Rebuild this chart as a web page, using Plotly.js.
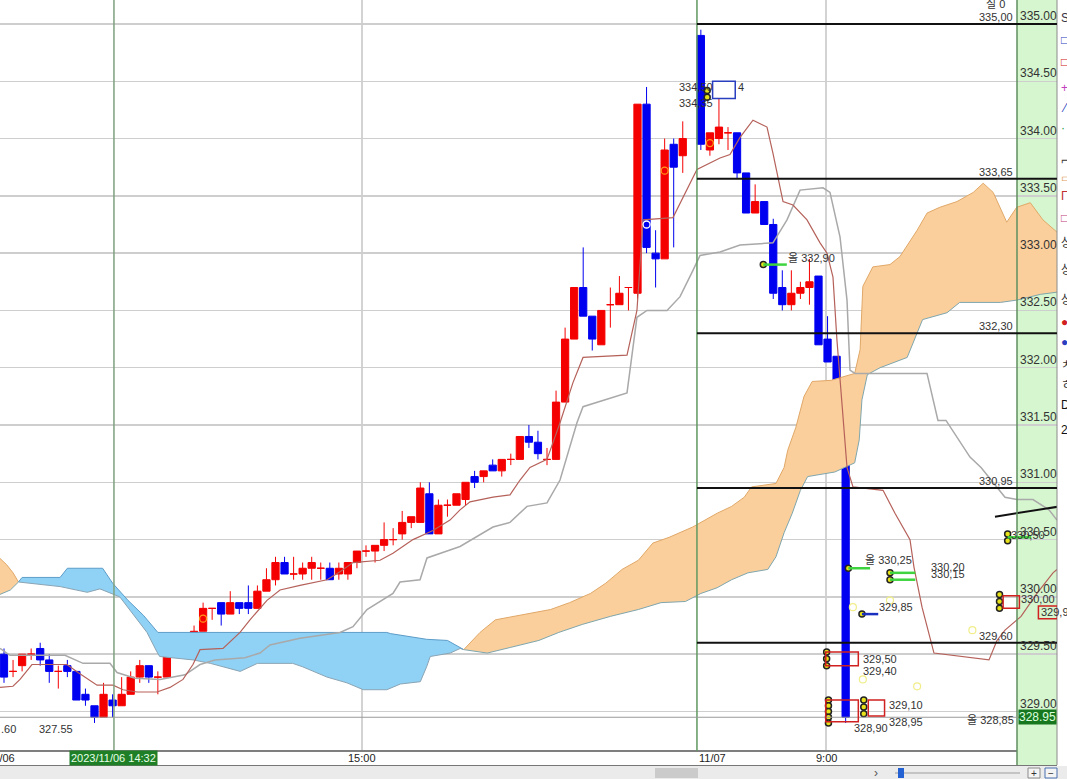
<!DOCTYPE html>
<html><head><meta charset="utf-8">
<script src="https://cdn.plot.ly/plotly-3.0.1.min.js"></script>
<style>html,body{margin:0;padding:0;background:#fff;overflow:hidden}#chart{width:1067px;height:779px}</style>
</head><body><div id="chart"></div>
<script>
// ---------- DATA ----------
const day1Bars = 76, day2Bars = 17, sessionGap = 1;
const openP = [329.50,329.35,329.40,329.50,329.55,329.45,329.35,329.40,329.35,329.15,
 329.05,328.95,329.10,329.05,329.15,329.30,329.40,329.30,329.30,329.60,
 329.55,329.65,329.70,329.90,329.95,329.85,329.95,329.95,329.90,330.05,
 330.15,330.30,330.20,330.20,330.25,330.25,330.25,330.20,330.20,330.30,
 330.40,330.40,330.45,330.50,330.55,330.65,330.65,330.90,330.55,330.80,
 330.80,330.85,331.05,331.05,331.15,331.10,331.20,331.20,331.40,331.35,
 331.20,331.20,331.70,332.25,332.70,332.45,332.20,332.55,332.55,332.70,
 332.65,334.30,333.00,332.95,333.95,333.85,
 334.90,333.90,334.00,334.05,334.05,333.70,333.35,333.45,333.25,332.70,332.55,332.65,332.70,332.80,332.25,332.10,331.15];
const highP = [329.55,329.45,329.50,329.55,329.60,329.50,329.40,329.45,329.35,329.20,
 329.05,329.25,329.15,329.30,329.35,329.45,329.40,329.35,329.55,329.60,
 329.60,329.75,329.95,329.90,329.95,330.05,329.95,330.10,330.10,330.25,
 330.35,330.35,330.35,330.30,330.35,330.30,330.30,330.30,330.30,330.40,
 330.45,330.45,330.65,330.60,330.75,330.70,331.00,331.00,330.85,330.85,
 330.90,331.00,331.10,331.10,331.20,331.20,331.25,331.40,331.50,331.45,
 331.30,331.80,332.35,332.70,333.05,332.45,332.50,332.70,332.80,332.70,
 334.30,334.45,333.20,334.00,334.00,334.15,
 334.95,334.05,334.35,334.10,334.05,333.70,333.60,333.45,333.30,332.85,332.85,332.75,332.95,332.80,332.45,332.10,331.15];
const lowP = [329.25,329.30,329.35,329.45,329.40,329.25,329.20,329.30,329.10,329.05,
 328.90,328.95,328.95,329.05,329.15,329.25,329.25,329.15,329.30,329.50,
 329.50,329.65,329.70,329.80,329.75,329.85,329.85,329.85,329.90,330.05,
 330.10,330.20,330.15,330.15,330.15,330.15,330.15,330.15,330.15,330.25,
 330.35,330.30,330.40,330.45,330.50,330.60,330.65,330.55,330.55,330.70,
 330.80,330.80,330.95,331.00,331.10,331.05,331.15,331.20,331.30,331.20,
 331.15,331.20,331.70,332.25,332.45,332.15,332.20,332.35,332.55,332.50,
 332.60,333.00,332.70,332.95,333.05,333.70,
 333.90,333.85,333.95,333.90,333.65,333.35,333.35,333.25,332.60,332.50,332.50,332.60,332.55,332.20,332.05,331.15,328.90];
const closeP = [329.30,329.35,329.50,329.50,329.45,329.35,329.35,329.35,329.10,329.10,
 328.95,329.15,329.05,329.15,329.30,329.40,329.30,329.30,329.55,329.55,
 329.60,329.70,329.90,329.90,329.85,329.95,329.90,329.90,330.05,330.15,
 330.30,330.20,330.20,330.25,330.30,330.25,330.15,330.25,330.30,330.40,
 330.40,330.45,330.50,330.50,330.65,330.70,330.95,330.55,330.80,330.80,
 330.90,331.00,331.00,331.10,331.10,331.20,331.20,331.40,331.35,331.25,
 331.20,331.70,332.25,332.70,332.45,332.25,332.50,332.55,332.65,332.70,
 334.30,333.05,332.95,333.90,333.75,334.00,
 333.95,334.05,334.10,334.05,333.70,333.35,333.45,333.25,332.65,332.55,332.65,332.70,332.75,332.20,332.05,331.15,328.95];

// Ichimoku lines (slot = bar position)
const tenkanSlot = [-0.44,0.99,1.77,3.09,6.96,8.18,10.28,12.04,13.15,14.70,16.91,18.34,19.78,20.88,21.66,24.20,26.08,27.18,29.06,30.50,32.71,35.69,37.13,38.56,41.55,42.98,45.19,47.40,49.28,50.39,51.49,54.03,55.91,57.02,58.12,60.00,61.44,62.87,63.98,68.84,69.94,70.61,73.92,75.47,76.57,79.12,80.22,81.33,82.76,84.31,84.97,86.08,87.18,88.73,90.17,90.94,91.60,92.04,93.15,93.81,97.13,98.45,100.11,100.55,101.44,102.76,108.84,109.72,110.61,112.38,114.14,115.91,116.35];
const tenkanVal = [329.21,329.22,329.28,329.41,329.41,329.34,329.23,329.23,329.19,329.17,329.17,329.21,329.28,329.41,329.54,329.55,329.69,329.80,329.97,330.06,330.10,330.15,330.22,330.30,330.32,330.38,330.50,330.58,330.67,330.76,330.83,330.87,330.89,331.02,331.13,331.20,331.52,331.87,332.09,332.11,332.50,333.29,333.31,333.55,333.73,333.83,333.86,334.01,334.16,334.10,333.87,333.45,333.42,333.29,333.09,333.00,332.79,332.24,331.13,330.96,330.93,330.73,330.50,330.26,329.91,329.51,329.45,329.62,329.71,329.83,330.03,330.21,330.24];
const kijunSlot = [-0.44,0.66,6.74,8.73,11.71,12.49,14.48,17.24,20.00,21.66,23.31,26.63,28.29,29.39,32.71,37.13,38.56,40.11,42.98,43.76,45.97,46.74,49.28,50.39,54.03,55.91,57.79,60.00,61.44,63.31,63.98,68.84,69.94,71.05,73.26,74.70,76.13,76.91,79.12,81.33,84.97,86.52,87.96,90.50,91.27,92.38,93.15,93.48,94.03,101.99,103.20,104.09,106.74,107.96,110.61,111.93,113.70,115.47,116.35];
const kijunVal = [329.55,329.49,329.49,329.42,329.42,329.34,329.29,329.28,329.32,329.41,329.45,329.47,329.51,329.58,329.64,329.69,329.74,329.89,330.03,330.13,330.15,330.34,330.41,330.44,330.61,330.65,330.79,330.82,331.02,331.52,331.66,331.78,332.44,332.50,332.50,332.62,332.85,332.98,333.01,333.07,333.09,333.29,333.55,333.57,333.53,333.14,332.59,331.98,331.95,331.95,331.54,331.54,331.22,331.13,330.87,330.85,330.85,330.76,330.67];

// Cloud edges
const orangeLeftTopSlot = [-0.5,0.3,1.0,1.6], orangeLeftTopVal = [330.34,330.28,330.21,330.13];
const orangeLeftBotSlot = [-0.5,0.7,1.6], orangeLeftBotVal = [330.02,330.06,330.13];
const blueTopSlot = [1.6,2.0,6.2,7.0,10.9,12.0,13.7,15.4,17.0,42.3,42.7,46.7,49.0,50.4,50.8];
const blueTopVal = [330.13,330.17,330.17,330.25,330.25,330.12,329.97,329.84,329.69,329.69,329.68,329.63,329.62,329.56,329.54];
const blueBotSlot = [1.6,6.2,9.2,10.6,12.8,14.3,15.8,16.9,17.2,20.9,22.8,26.1,28.0,31.9,33.0,35.7,37.9,39.7,42.3,43.8,46.0,46.7,47.1,49.3,50.4,50.8];
const blueBotVal = [330.13,330.09,330.04,330.07,330.00,329.84,329.69,329.52,329.48,329.45,329.42,329.35,329.42,329.42,329.39,329.30,329.25,329.19,329.19,329.24,329.26,329.39,329.48,329.51,329.55,329.54];
const orangeTopSlot = [50.8,52.6,54.3,56.9,60.4,62.5,64.8,66.5,68.3,70.1,71.7,73.5,76.1,78.8,80.4,81.8,82.6,85.3,86.2,86.6,87.5,88.4,89.3,91.4,94.0,94.6,94.9,96.0,97.9,99.0,100.9,102.0,103.4,105.3,107.1,108.2,109.3,110.8,111.9,113.4,114.8,116.4];
const orangeTopVal = [329.54,329.69,329.80,329.84,329.89,329.95,330.03,330.12,330.24,330.32,330.47,330.52,330.61,330.73,330.79,330.87,330.96,330.99,331.13,331.28,331.48,331.75,331.88,331.89,331.95,332.16,332.71,332.88,332.90,332.97,333.20,333.35,333.40,333.45,333.53,333.61,333.53,333.27,333.40,333.44,333.29,333.18];
const orangeBotSlot = [50.8,53.4,56.0,59.1,61.3,63.9,67.0,70.1,72.6,75.3,77.0,78.8,80.4,82.2,84.4,85.3,86.2,87.1,88.0,88.8,91.8,94.0,94.5,94.8,95.4,96.8,99.8,100.9,101.5,104.2,105.6,110.1,111.9,114.5,116.4];
const orangeBotVal = [329.54,329.51,329.56,329.62,329.69,329.76,329.83,329.89,329.95,329.96,330.03,330.08,330.15,330.21,330.24,330.35,330.56,330.73,330.93,331.05,331.09,331.17,331.37,331.72,331.94,332.00,332.09,332.30,332.42,332.48,332.57,332.57,332.59,332.64,332.66];

// price axis ticks
const priceTicks = [335.0,334.5,334.0,333.5,333.0,332.5,332.0,331.5,331.0,330.5,330.0,329.5,329.0];
const priceTickText = ['335.00','334.50','334.00','333.50','333.00','332.50','332.00','331.50','331.00','330.50','330.00','329.50','329.00'];
const lastPrice = 328.95, lastPriceText = '328.95';
// drawn level lines
const levelPrices = [335.00,333.65,332.30,330.95,329.60];
const levelText = ['335,00','333,65','332,30','330,95','329,60'];
// time axis
const timeGridSlots = [39.56, 90.83];
const daySplitSlot = 76.57, crossSlot = 12.15;
const timeLabels = ['11/06','15:00','11/07','9:00'];
const crossLabel = '2023/11/06 14:32';
// order notes
const noteText = ['334,50','334,35','4','올 332,90','올 330,25','330,20','330,15','329,85','329,50','329,40','329,10','328,95','328,90','올 328,85','330,00','329,90','330,50','실 0','327.55'];
const noteSlot = [74.5,74.5,81.0,86.5,95.0,102.3,102.3,96.6,94.8,94.8,97.7,97.7,93.8,106.3,112.3,114.5,111.2,108.4,3.8];
const notePrice = [334.45,334.31,334.45,332.96,330.32,330.26,330.20,329.91,329.46,329.35,329.06,328.91,328.86,328.93,329.98,329.87,330.54,335.17,328.85];
const pinSlot = [77.7,77.7,83.9,93.3,97.9,97.9,94.8,90.9,90.9,90.9,91.1,91.1,91.1,91.1,91.1,95.0,95.0,95.0,110.9,110.9,110.0,110.0,110.0];
const pinPrice = [334.42,334.36,332.90,330.25,330.21,330.15,329.85,329.52,329.46,329.40,329.10,329.05,329.00,328.95,328.90,329.10,329.04,328.98,330.55,330.49,330.02,329.96,329.90];
const greenTickFrom = [83.9,93.3,97.9,97.9,110.9], greenTickTo = [86.5,95.7,100.7,100.7,113.5], greenTickPrice = [332.90,330.25,330.21,330.15,330.52];
const blueTickFrom = [94.8], blueTickTo = [96.6], blueTickPrice = [329.85];
const redBoxX0 = [90.8,90.8,95.5,110.4,114.3], redBoxX1 = [94.4,94.4,97.3,112.2,116.4], redBoxP0 = [329.40,328.91,328.96,329.90,329.81], redBoxP1 = [329.52,329.10,329.10,330.01,329.92];
const blueBoxX0 = [78.3], blueBoxX1 = [80.8], blueBoxP0 = [334.35], blueBoxP1 = [334.50];
const paleSlot = [93.8,97.9,94.9,100.9,107.0], palePrice = [329.91,329.97,329.28,329.22,329.71];
const signalSlot = [22,73,78], signalPrice = [329.81,333.72,333.96];
const signal2Slot = [71], signal2Price = [333.25];
const trendSlot = [109.5,116.7], trendPrice = [330.70,330.79];

// ---------- BUILD ----------
const barSlot = [];
for (let i = 0; i < day1Bars; i++) barSlot.push(i);
for (let i = 0; i < day2Bars; i++) barSlot.push(day1Bars + sessionGap + i);

function candles(up, color) {
  const x=[],o=[],h=[],l=[],c=[];
  for (let i = 0; i < barSlot.length; i++) {
    const isUp = closeP[i] >= openP[i];
    if (isUp === up) { x.push(barSlot[i]); o.push(openP[i]); h.push(highP[i]); l.push(lowP[i]); c.push(closeP[i]); }
  }
  return {type:'candlestick', x, open:o, high:h, low:l, close:c, whiskerwidth:0,
    increasing:{line:{color, width:1}, fillcolor:color},
    decreasing:{line:{color, width:1}, fillcolor:color},
    hoverinfo:'skip', showlegend:false};
}
function line(x, y, color, width, extra) {
  return Object.assign({type:'scatter', mode:'lines', x, y, line:{color, width}, hoverinfo:'skip', showlegend:false}, extra||{});
}

const FONT = 'Liberation Sans, Noto Sans CJK KR, sans-serif';
const traces = [
  line(orangeLeftBotSlot, orangeLeftBotVal, '#7fa6ad', 1),
  line(orangeLeftTopSlot, orangeLeftTopVal, '#e0a868', 1, {fill:'tonexty', fillcolor:'#fbcf9c'}),
  line(blueBotSlot, blueBotVal, '#8aa4b4', 1),
  line(blueTopSlot, blueTopVal, '#5d9cc8', 1, {fill:'tonexty', fillcolor:'#8fd2f6'}),
  line(orangeBotSlot, orangeBotVal, '#7fa6ad', 1),
  line(orangeTopSlot, orangeTopVal, '#e0a868', 1, {fill:'tonexty', fillcolor:'#fbcf9c'}),
  line(kijunSlot, kijunVal, '#a9a9a9', 1.5),
  line(tenkanSlot, tenkanVal, '#b5615a', 1.2),
  candles(true, '#f50000'),
  candles(false, '#0000f0'),
  {type:'scatter', mode:'markers', x:signalSlot, y:signalPrice, marker:{symbol:'circle-open', size:7, color:'#ff9a1a', line:{width:1.3}}, hoverinfo:'skip', showlegend:false},
  {type:'scatter', mode:'markers', x:signal2Slot, y:signal2Price, marker:{symbol:'circle-open', size:7, color:'#ffffff', line:{width:1.3}}, hoverinfo:'skip', showlegend:false},
  {type:'scatter', mode:'markers', x:paleSlot, y:palePrice, marker:{symbol:'circle-open', size:7, color:'#f1ee8a', line:{width:1.2}}, hoverinfo:'skip', showlegend:false},
  line(trendSlot, trendPrice, '#111', 2)
];

const shapes = [];
const px = v => v/1057, py = v => (750 - v)/750;
// right price panel
shapes.push({type:'rect', layer:'below', xref:'paper', yref:'paper', x0:px(1017), x1:1, y0:py(765), y1:1, fillcolor:'#d6f6cf', line:{width:0}});
// time strip & scroll strip
shapes.push({type:'rect', layer:'above', xref:'paper', yref:'paper', x0:0, x1:1067/1057, y0:py(779), y1:py(766), fillcolor:'#ebebeb', line:{width:0}});
shapes.push({type:'line', xref:'paper', yref:'paper', x0:0, x1:px(1017), y0:py(751), y1:py(751), line:{color:'#555', width:1.5}});
shapes.push({type:'line', xref:'paper', yref:'paper', x0:0, x1:1, y0:py(765.5), y1:py(765.5), line:{color:'#777', width:1}});
shapes.push({type:'line', xref:'paper', yref:'paper', x0:px(1017), x1:px(1017), y0:py(765), y1:1, line:{color:'#5f8f5f', width:1.5}});
shapes.push({type:'line', xref:'paper', yref:'paper', x0:1, x1:1, y0:py(765), y1:1, line:{color:'#8a8a8a', width:1}});
// scroll widgets
shapes.push({type:'rect', xref:'paper', yref:'paper', x0:px(655), x1:px(698), y0:py(778), y1:py(768), fillcolor:'#cbcbcb', line:{width:0}});
shapes.push({type:'line', xref:'paper', yref:'paper', x0:px(895), x1:px(1020), y0:py(773), y1:py(773), line:{color:'#c4c4c4', width:2}});
shapes.push({type:'rect', xref:'paper', yref:'paper', x0:px(898), x1:px(904), y0:py(778), y1:py(768), fillcolor:'#2462d4', line:{width:0}});
shapes.push({type:'rect', xref:'paper', yref:'paper', x0:px(1028), x1:px(1040), y0:py(778), y1:py(768), fillcolor:'#f4f4f4', line:{color:'#8a8a8a', width:1}});
shapes.push({type:'rect', xref:'paper', yref:'paper', x0:px(1045), x1:px(1057), y0:py(778), y1:py(768), fillcolor:'#f4f4f4', line:{color:'#4a6fb0', width:1}});
// vertical markers
shapes.push({type:'line', xref:'x', yref:'paper', x0:crossSlot, x1:crossSlot, y0:py(751), y1:1, line:{color:'#7f9f7f', width:1.5}});
shapes.push({type:'line', xref:'x', yref:'paper', x0:daySplitSlot, x1:daySplitSlot, y0:py(751), y1:1, line:{color:'#5f985f', width:1.5}});
// last price line
shapes.push({type:'line', xref:'paper', yref:'y', x0:0, x1:1, y0:lastPrice, y1:lastPrice, line:{color:'#9a9a9a', width:1.2}});
// level lines
levelPrices.forEach(p => shapes.push({type:'line', xref:'x', yref:'y', x0:daySplitSlot, x1:116.35, y0:p, y1:p, line:{color:'#111', width:2}}));
// order boxes and ticks
redBoxX0.forEach((x0,i) => shapes.push({type:'rect', xref:'x', yref:'y', x0, x1:redBoxX1[i], y0:redBoxP0[i], y1:redBoxP1[i], line:{color:'#d02020', width:1.5}, fillcolor:'rgba(0,0,0,0)'}));
blueBoxX0.forEach((x0,i) => shapes.push({type:'rect', xref:'x', yref:'y', x0, x1:blueBoxX1[i], y0:blueBoxP0[i], y1:blueBoxP1[i], line:{color:'#2a3fc0', width:1.5}, fillcolor:'rgba(0,0,0,0)'}));
greenTickFrom.forEach((x0,i) => shapes.push({type:'line', xref:'x', yref:'y', x0, x1:greenTickTo[i], y0:greenTickPrice[i], y1:greenTickPrice[i], line:{color:'#3fd43f', width:2.5}}));
blueTickFrom.forEach((x0,i) => shapes.push({type:'line', xref:'x', yref:'y', x0, x1:blueTickTo[i], y0:blueTickPrice[i], y1:blueTickPrice[i], line:{color:'#1a2fc0', width:2.5}}));

// pins (yellow/black) trace
traces.push({type:'scatter', mode:'markers', x:pinSlot, y:pinPrice, marker:{symbol:'circle', size:6, color:'#e8e21a', line:{color:'#222', width:1.5}}, hoverinfo:'skip', showlegend:false});

const ann = [];
priceTicks.forEach((v,i) => ann.push({xref:'paper', yref:'y', x:px(1019), y:v, xanchor:'left', yanchor:'bottom', text:priceTickText[i], showarrow:false, font:{family:FONT, size:12, color:'#333'}, borderpad:0}));
ann.push({xref:'paper', yref:'y', x:px(1018), y:lastPrice, xanchor:'left', yanchor:'middle', text:lastPriceText, showarrow:false, bgcolor:'#17771f', font:{family:FONT, size:12, color:'#dfffdf'}, borderpad:0});
levelPrices.forEach((p,i) => ann.push({xref:'x', yref:'y', x:111.6, y:p, xanchor:'right', yanchor:'bottom', text:levelText[i], showarrow:false, font:{family:FONT, size:11, color:'#333'}, borderpad:0}));
noteText.forEach((t,i) => ann.push({xref:'x', yref:'y', x:noteSlot[i], y:notePrice[i], xanchor:'left', yanchor:'middle', text:t, showarrow:false, font:{family:FONT, size:11, color:'#333'}, borderpad:0}));
ann.push({xref:'paper', yref:'y', x:0, y:328.85, xanchor:'left', yanchor:'middle', text:'.60', showarrow:false, font:{family:FONT, size:11, color:'#333'}, borderpad:0});
// time labels
const tY = py(758);
ann.push({xref:'paper', yref:'paper', x:px(17), y:tY, xanchor:'right', yanchor:'middle', text:timeLabels[0], showarrow:false, font:{family:FONT, size:11, color:'#222'}});
ann.push({xref:'x', yref:'paper', x:timeGridSlots[0], y:tY, xanchor:'center', yanchor:'middle', text:timeLabels[1], showarrow:false, font:{family:FONT, size:11, color:'#222'}});
ann.push({xref:'x', yref:'paper', x:daySplitSlot, y:tY, xanchor:'left', yanchor:'middle', text:timeLabels[2], showarrow:false, font:{family:FONT, size:11, color:'#222'}});
ann.push({xref:'x', yref:'paper', x:timeGridSlots[1], y:tY, xanchor:'center', yanchor:'middle', text:timeLabels[3], showarrow:false, font:{family:FONT, size:11, color:'#222'}});
ann.push({xref:'x', yref:'paper', x:crossSlot, y:tY, xanchor:'center', yanchor:'middle', text:crossLabel, showarrow:false, bgcolor:'#1f7f27', font:{family:FONT, size:11, color:'#e8ffe8'}, borderpad:1});
// scroll glyphs
ann.push({xref:'paper', yref:'paper', x:px(876), y:py(773), xanchor:'center', yanchor:'middle', text:'›', showarrow:false, font:{family:FONT, size:12, color:'#555'}});
ann.push({xref:'paper', yref:'paper', x:px(1034), y:py(773), xanchor:'center', yanchor:'middle', text:'+', showarrow:false, font:{family:FONT, size:10, color:'#333'}});
ann.push({xref:'paper', yref:'paper', x:px(1051), y:py(773), xanchor:'center', yanchor:'middle', text:'−', showarrow:false, font:{family:FONT, size:10, color:'#333'}});
// right toolbar glyphs (clipped by window edge)
const toolGlyph = ['S','□','□','+','⁄','·','⌐','▭','Г','□','상','상','상','●','●','ㅊ','ㅎ','D','2'];
const toolColor = ['#334','#2a3fc0','#d02020','#c040c0','#2a3fc0','#20a040','#333','#e0a060','#c03030','#c04080','#333','#333','#333','#d02020','#2a3fc0','#333','#333','#111','#111'];
const toolY = [18,40,62,88,108,128,160,178,196,218,243,270,300,322,342,365,385,405,430];
toolGlyph.forEach((g,i) => ann.push({xref:'paper', yref:'paper', x:px(1059), y:py(toolY[i]), xanchor:'left', yanchor:'middle', text:g, showarrow:false, font:{family:FONT, size:12, color:toolColor[i]}}));

const layout = {
  width:1067, height:779, margin:{l:0, r:10, t:0, b:29},
  paper_bgcolor:'#ffffff', plot_bgcolor:'#ffffff', showlegend:false,
  font:{family:FONT, size:11, color:'#333'},
  boxgap:0.2, boxgroupgap:0, boxmode:'overlay',
  xaxis:{range:[-0.442,116.354], rangeslider:{visible:false}, tickvals:timeGridSlots, showgrid:true, gridcolor:'#d3d3d3', gridwidth:1.5,
         showticklabels:false, ticks:'', zeroline:false, showline:false, fixedrange:true},
  yaxis:{range:[328.664,335.209], tickvals:priceTicks, showgrid:true, gridcolor:'#cecece', gridwidth:1.5,
         showticklabels:false, ticks:'', zeroline:false, showline:false, fixedrange:true},
  shapes, annotations:ann
};
Plotly.newPlot('chart', traces, layout, {displayModeBar:false, staticPlot:true});
</script></body></html>
